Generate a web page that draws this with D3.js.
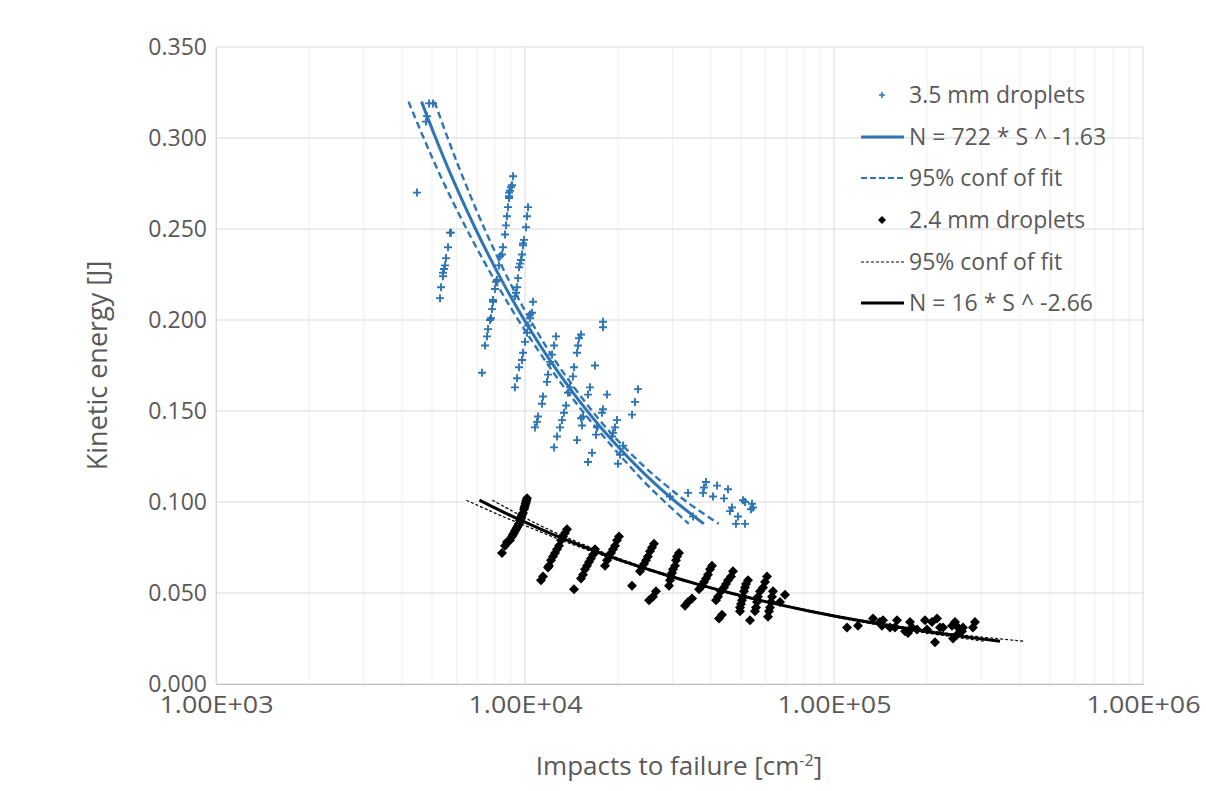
<!DOCTYPE html>
<html>
<head>
<meta charset="utf-8">
<script src="https://cdn.jsdelivr.net/npm/d3@7"></script>
<style>
  html, body { margin: 0; padding: 0; background: #fff; }
  svg { display: block; }
  text { font-family: "Open Sans", "Noto Sans", sans-serif; fill: #595959; }
</style>
</head>
<body>
<svg id="chart" width="1206" height="791"></svg>
<script>
// ---------- DATA ----------
const xTicks = [1e3, 1e4, 1e5, 1e6];
const xTickLabels = ["1.00E+03", "1.00E+04", "1.00E+05", "1.00E+06"];
const yTicks = [0, 0.05, 0.10, 0.15, 0.20, 0.25, 0.30, 0.35];
const yTickLabels = ["0.000", "0.050", "0.100", "0.150", "0.200", "0.250", "0.300", "0.350"];

const legendLabels = ["3.5 mm droplets", "N = 722 * S ^ -1.63", "95% conf of fit",
                      "2.4 mm droplets", "95% conf of fit", "N = 16 * S ^ -2.66"];

// 3.5 mm droplets: [impacts N, kinetic energy J]
const drops35 = [
  [4890,0.319],[5038,0.319],[4817,0.312],[4781,0.309],[4472,0.270],
  [5761,0.248],[5718,0.248],[5634,0.240],[5551,0.234],[5510,0.230],[5469,0.228],[5428,0.226],[5428,0.224],[5348,0.218],[5308,0.212],
  [9146,0.279],[9076,0.274],[9009,0.273],[8943,0.271],[8875,0.270],[8875,0.268],[8875,0.267],[8810,0.262],[8743,0.257],[8678,0.252],
  [8614,0.247],[8486,0.240],[8424,0.236],[8299,0.235],[8238,0.230],[8116,0.222],[8055,0.221],[7996,0.217],[7878,0.211],[7878,0.210],
  [7820,0.206],[7762,0.201],[7704,0.200],[7591,0.195],[7534,0.191],[7423,0.186],
  [10226,0.262],[10150,0.257],[10075,0.251],[9926,0.244],[9851,0.242],[9851,0.241],[9779,0.236],[9707,0.233],[9634,0.231],[9563,0.229],
  [9491,0.223],[9421,0.218],[9352,0.215],[9281,0.213],[10614,0.210],[10536,0.204],[10380,0.203],[10380,0.201],[10226,0.197],[10150,0.193],
  [10000,0.188],[9851,0.182],[9779,0.178],[9563,0.174],[9421,0.168],[9281,0.163],
  [7258,0.171],
  [12600,0.191],[12416,0.186],[12232,0.181],[12050,0.177],[11871,0.170],[11784,0.166],[11436,0.158],[11350,0.154],[11018,0.147],[10935,0.144],[10774,0.141],
  [15180,0.192],[14955,0.190],[14842,0.186],[14733,0.182],[14408,0.174],[14300,0.169],[13984,0.163],[13779,0.160],[13575,0.153],[13373,0.149],
  [13174,0.145],[12981,0.141],[12694,0.136],[12416,0.130],[14733,0.134],
  [17882,0.199],[17882,0.196],[16848,0.175],
  [16235,0.163],[15994,0.159],[15409,0.147],[15296,0.142],[18424,0.159],[17882,0.151],[17750,0.149],[17100,0.141],[16977,0.137],[16476,0.127],
  [15994,0.122],[19845,0.145],[19555,0.141],[19266,0.138],[19123,0.136],[20760,0.131],[20298,0.126],[19999,0.121],[23213,0.162],[22700,0.155],
  [22200,0.148],[15180,0.146],
  [38530,0.111],[37960,0.108],[37690,0.105],[41820,0.109],[40590,0.103],[45390,0.107],[44060,0.102],[33700,0.105],[29460,0.103],[46760,0.097],
  [46070,0.095],[48900,0.092],[48170,0.088],[51520,0.088],[50760,0.101],[51520,0.100],[54270,0.099],[54680,0.097],[53870,0.096],[34982,0.092]
];

// fit of the 3.5 mm series and its 95 % band
const fit35E    = [0.32, 0.30, 0.28, 0.25, 0.22, 0.20, 0.18, 0.16, 0.14, 0.12, 0.11, 0.10, 0.088];
const fit35N    = [4625, 5140, 5750, 6920, 8520, 9950, 11810, 14320, 17800, 22900, 26380, 30800, 37900];
const conf35LoN = [4198, 4700, 5298, 6471, 8087, 9515, 11377, 13796, 17148, 21737, 24668, 28377, 33891];
const conf35HiN = [5095, 5621, 6241, 7400, 8976, 10405, 12259, 14864, 18476, 24125, 28211, 33430, 42384];

// 2.4 mm droplets: [impacts N, kinetic energy J]
const drops24 = [
  [10150,0.102],[10110,0.101],[10075,0.100],[10040,0.099],[10000,0.098],[9960,0.097],[9926,0.096],[9850,0.094],[9779,0.093],[9740,0.092],
  [9706,0.091],[9634,0.090],[9560,0.088],[9491,0.087],[9420,0.086],[9352,0.085],[9280,0.084],[9214,0.083],[9140,0.082],
  [9077,0.081],[8943,0.079],[8746,0.078],[8616,0.076],[8425,0.072],
  [13675,0.085],[13475,0.083],[13275,0.081],[13078,0.079],[12882,0.076],[12694,0.074],[12507,0.072],[12322,0.070],[12139,0.068],[11961,0.065],
  [11871,0.064],[11436,0.059],[11267,0.057],
  [16845,0.074],[16600,0.071],[16355,0.069],[16112,0.067],[15873,0.065],[15640,0.063],[15410,0.060],[15182,0.058],[14408,0.052],
  [20150,0.081],[19850,0.079],[19555,0.076],[19266,0.074],[18980,0.072],[18697,0.070],[18424,0.068],[18150,0.065],
  [26150,0.077],[25760,0.075],[25380,0.073],[25000,0.070],[24640,0.068],[24270,0.066],[23910,0.064],[23560,0.062],[22200,0.054],
  [26540,0.051],[25950,0.048],[25200,0.046],
  [31510,0.072],[31040,0.070],[30810,0.068],[30580,0.065],[30130,0.063],[29900,0.061],[29680,0.059],[29460,0.057],[29240,0.054],
  [34720,0.047],[33700,0.045],[32950,0.043],
  [40290,0.065],[39690,0.063],[39100,0.060],[38530,0.058],[37960,0.056],[37390,0.054],[36570,0.052],
  [47110,0.062],[46420,0.059],[45390,0.057],[44720,0.055],[44060,0.053],[43090,0.051],[42130,0.048],[41510,0.046],[43410,0.038],[42440,0.036],
  [52690,0.057],[51910,0.055],[51520,0.053],[51130,0.051],[50760,0.048],[50380,0.046],[50000,0.044],[49630,0.042],[49630,0.040],[53480,0.035],
  [60700,0.059],[59800,0.056],[58920,0.053],[57620,0.051],[56770,0.048],[56340,0.045],[55930,0.042],[55510,0.040],
  [63480,0.051],[63010,0.048],[62540,0.045],[62080,0.042],[61610,0.040],[61160,0.037],[69410,0.049],[66880,0.045],
  [110200,0.031],[119600,0.032],[133700,0.036],[144100,0.035],[143000,0.032],[159900,0.035],[157500,0.031],[176200,0.034],[173600,0.028],
  [169800,0.029],[197000,0.035],[200000,0.030],[215400,0.036],[212300,0.023],[220300,0.031],[225300,0.031],[246400,0.034],[250100,0.027],
  [242700,0.025],[259500,0.029],[285900,0.034],[281600,0.031],[185600,0.030],[151800,0.031],[140900,0.034],[178800,0.031],[207600,0.034],
  [252000,0.031],[261500,0.031],[240900,0.032]
];

// fit of the 2.4 mm series and its 95 % band
const fit24E    = [0.101, 0.095, 0.09, 0.085, 0.08, 0.075, 0.07, 0.065, 0.06, 0.055, 0.05, 0.045, 0.04, 0.035, 0.03, 0.027, 0.0235];
const fit24N    = [7120, 8390, 9680, 11280, 13250, 15720, 18880, 22980, 28470, 35840, 46220, 61150, 83680, 119300, 180000, 237900, 344600];
const conf24LoN = [6463, 7730, 9052, 10707, 12671, 15144, 18327, 22472, 27841, 35310, 45537, 60246, 81830, 114933, 169587, 219182, 305903];
const conf24HiN = [7844, 9106, 10352, 11883, 13856, 16317, 19450, 23499, 29113, 36378, 46913, 62067, 85571, 123833, 191052, 258217, 410000];

// ---------- LAYOUT ----------
const svg = d3.select("#chart");
const plot = { left: 216, right: 1143, top: 47, bottom: 684 };
const blue = "#2E75B6";

const x = d3.scaleLog().domain([1e3, 1e6]).range([plot.left, plot.right]);
const y = d3.scaleLinear().domain([0, 0.35]).range([plot.bottom, plot.top]);

// minor vertical gridlines
const minor = [];
for (let d = 1e3; d < 1e6; d *= 10) for (let k = 2; k <= 9; k++) minor.push(d * k);
svg.append("g").selectAll("line").data(minor).join("line")
  .attr("x1", d => x(d)).attr("x2", d => x(d))
  .attr("y1", plot.top).attr("y2", plot.bottom)
  .attr("stroke", "#F0F0F0").attr("stroke-width", 1);

// major vertical gridlines
svg.append("g").selectAll("line").data(xTicks).join("line")
  .attr("x1", d => x(d)).attr("x2", d => x(d))
  .attr("y1", plot.top).attr("y2", plot.bottom)
  .attr("stroke", "#D9D9D9").attr("stroke-width", 1);

// horizontal gridlines
svg.append("g").selectAll("line").data(yTicks).join("line")
  .attr("x1", plot.left).attr("x2", plot.right)
  .attr("y1", d => y(d)).attr("y2", d => y(d))
  .attr("stroke", "#D9D9D9").attr("stroke-width", 1);

// axes
const xAxis = d3.axisBottom(x).tickValues(xTicks).tickFormat((d, i) => xTickLabels[i]).tickSize(0).tickPadding(12);
const gx = svg.append("g").attr("transform", `translate(0,${plot.bottom})`).call(xAxis);
gx.select(".domain").attr("stroke", "#BFBFBF");
gx.selectAll("text").style("font-size", "24px").attr("fill", "#595959")
  .style("font-family", "'Open Sans'").attr("textLength", 114).attr("lengthAdjust", "spacingAndGlyphs");

const yAxis = d3.axisLeft(y).tickValues(yTicks).tickFormat((d, i) => yTickLabels[i]).tickSize(0).tickPadding(9);
const gy = svg.append("g").attr("transform", `translate(${plot.left},0)`).call(yAxis);
gy.select(".domain").attr("stroke", "#D9D9D9");
gy.selectAll("text").style("font-size", "23px").attr("fill", "#595959").style("font-family", "'Open Sans'");

// axis titles
svg.append("text")
  .attr("transform", `translate(98,${(plot.top + plot.bottom) / 2}) rotate(-90)`)
  .attr("text-anchor", "middle").attr("dy", "0.35em").style("font-size", "27px")
  .text("Kinetic energy [J]");

const xt = svg.append("text")
  .attr("x", 679).attr("y", 775)
  .attr("text-anchor", "middle").style("font-size", "26px");
xt.append("tspan").text("Impacts to failure [cm");
xt.append("tspan").attr("dy", -9).style("font-size", "16px").text("-2");
xt.append("tspan").attr("dy", 9).text("]");

// ---------- MARKS ----------
const plusPath = "M-4,0H4M0,-4V4";
const diamondPath = "M0,-5L5,0L0,5L-5,0Z";

const line = d3.line().x(d => x(d[0])).y(d => y(d[1])).curve(d3.curveCatmullRom);
const zip = (ns, es) => ns.map((n, i) => [n, es[i]]);

// 3.5 mm points
svg.append("g").selectAll("path").data(drops35).join("path")
  .attr("d", plusPath)
  .attr("transform", d => `translate(${x(d[0])},${y(d[1])})`)
  .attr("stroke", blue).attr("stroke-width", 1.9).attr("fill", "none");

// 3.5 mm fit
svg.append("path").datum(zip(fit35N, fit35E)).attr("d", line)
  .attr("fill", "none").attr("stroke", blue).attr("stroke-width", 3);
// 3.5 mm conf
[conf35LoN, conf35HiN].forEach(ns => {
  svg.append("path").datum(zip(ns, fit35E)).attr("d", line)
    .attr("fill", "none").attr("stroke", blue).attr("stroke-width", 2.4)
    .attr("stroke-dasharray", "7,4");
});

// 2.4 mm points
svg.append("g").selectAll("path").data(drops24).join("path")
  .attr("d", diamondPath)
  .attr("transform", d => `translate(${x(d[0])},${y(d[1])})`)
  .attr("fill", "#000");

// 2.4 mm conf
[conf24LoN, conf24HiN].forEach(ns => {
  svg.append("path").datum(zip(ns, fit24E)).attr("d", line)
    .attr("fill", "none").attr("stroke", "#000").attr("stroke-width", 1.2)
    .attr("stroke-dasharray", "3,2");
});
// 2.4 mm fit
svg.append("path").datum(zip(fit24N, fit24E)).attr("d", line)
  .attr("fill", "none").attr("stroke", "#000").attr("stroke-width", 3);

// ---------- LEGEND ----------
const legY = [95, 137, 178, 220, 262, 303];
const lg = svg.append("g");
legendLabels.forEach((lab, i) => {
  const yy = legY[i];
  if (i === 0) {
    lg.append("path").attr("d", "M-3,0H3M0,-3V3").attr("transform", `translate(882,${yy})`)
      .attr("stroke", blue).attr("stroke-width", 1.6);
  } else if (i === 1) {
    lg.append("line").attr("x1", 861).attr("x2", 904).attr("y1", yy).attr("y2", yy)
      .attr("stroke", blue).attr("stroke-width", 3);
  } else if (i === 2) {
    lg.append("line").attr("x1", 861).attr("x2", 904).attr("y1", yy).attr("y2", yy)
      .attr("stroke", blue).attr("stroke-width", 2.2).attr("stroke-dasharray", "6,3");
  } else if (i === 3) {
    lg.append("path").attr("d", "M0,-4L4,0L0,4L-4,0Z").attr("transform", `translate(882,${yy})`)
      .attr("fill", "#000");
  } else if (i === 4) {
    lg.append("line").attr("x1", 861).attr("x2", 904).attr("y1", yy).attr("y2", yy)
      .attr("stroke", "#000").attr("stroke-width", 1.2).attr("stroke-dasharray", "3,2");
  } else {
    lg.append("line").attr("x1", 861).attr("x2", 904).attr("y1", yy).attr("y2", yy)
      .attr("stroke", "#000").attr("stroke-width", 3);
  }
  lg.append("text").attr("x", 909).attr("y", yy).attr("dy", "0.36em")
    .style("font-size", "23px").text(lab);
});
</script>
</body>
</html>
